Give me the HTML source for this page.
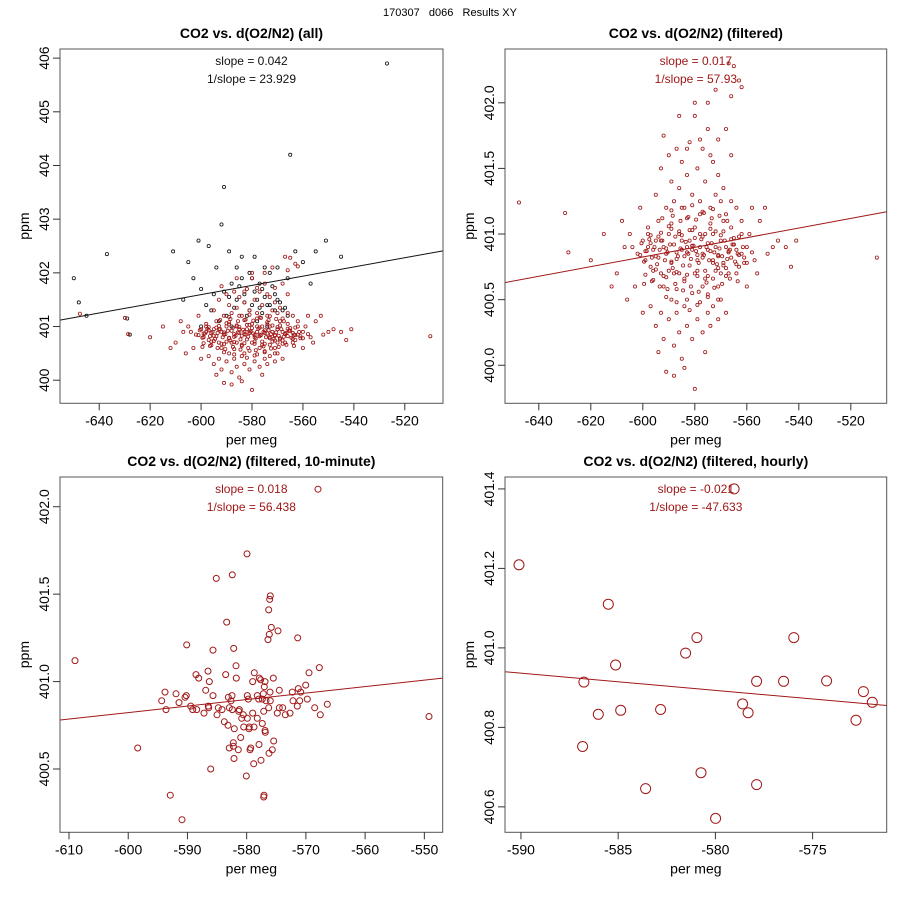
<!DOCTYPE html>
<html><head><meta charset="utf-8"><style>
html,body{margin:0;padding:0;background:#fff;}
svg{display:block;font-family:"Liberation Sans",Arial,sans-serif;}
</style></head><body>
<svg id="chart" width="900" height="900" viewBox="0 0 900 900" xmlns="http://www.w3.org/2000/svg">
<rect width="900" height="900" fill="#fff"/>
<text x="450" y="16" font-size="11" text-anchor="middle" xml:space="preserve">170307   d066   Results XY</text>
</svg>
<script>
// ---------- data ----------
const allOnlyX = [-650,-648,-645,-637,-629,-628,-611,-607,-605,-603,-601,-600,-597,-594,-592,-591,-589,-588,-586,-584,-583,-581,-580,-579,-578,-576,-575,-574,-573,-571,-570,-568,-566,-565,-563,-560,-557,-555,-551,-545,-527,-590,-586,-582,-578,-574,-596,-593,-580,-577,-584,-570,-566,-588,-600,-591,-587,-585,-583,-579,-577,-575,-572,-569,-567,-589,-581,-576,-573,-571,-595,-598];
const allOnlyY = [401.9,401.45,401.2,402.35,401.15,400.85,402.4,401.5,402.2,401.9,402.6,401.7,402.5,402.1,402.9,403.6,402.4,401.8,402.1,402.3,401.6,402.0,401.9,402.3,401.5,401.7,402.1,401.4,402.0,401.6,402.1,401.3,401.9,404.2,402.4,402.2,401.8,402.4,402.6,402.3,405.9,401.2,401.5,401.2,401.1,401.0,401.3,401.1,401.4,401.8,401.9,401.5,401.2,401.0,401.0,401.65,401.35,401.75,401.45,401.65,401.35,401.55,401.75,401.45,401.35,401.55,401.3,401.25,401.4,401.3,401.6,401.4];
const filtX = [-604,-602,-600,-599,-598,-597,-596,-595,-594,-593,-592,-591,-590,-589,-588,-587,-586,-585,-584,-583,-582,-581,-580,-579,-578,-577,-576,-575,-574,-573,-572,-571,-570,-569,-568,-567,-566,-565,-564,-562,-560,-558,
-598,-596,-594,-592,-590,-589,-587,-586,-584,-583,-582,-581,-580,-579,-578,-577,-576,-575,-574,-573,-572,-571,-570,-569,-568,-566,-564,-563,-561,-559,-557,
-595,-593,-592,-591,-590,-589,-588,-587,-586,-585,-584,-583,-582,-581,-580,-579,-578,-577,-576,-575,-574,-573,-572,-571,-570,-569,-568,-566,-564,-580,-578,-575,-574,-571,-586,-583,-568,-566,
-567,-565,-563,-562,-566,-572,
-597,-595,-594,-593,-592,-591,-590,-589,-588,-587,-586,-585,-584,-583,-582,-581,-580,-579,-578,-577,-576,-575,-574,-573,-571,-570,-568,-584,-588,
-610,-608,-607,-606,-605,-603,-601,-600,-562,-560,-558,-556,-555,-553,-552,-550,-548,-545,-543,-541,-510,-647.6,-629.9,-628.6,-620,-615,-612,
-599,-595,-591,-587,-583,-579,-575,-571,-567,-563,-597,-589,-581,-573,-565,-593,-585,-577,-569];
const filtY = [400.9,400.85,400.95,400.8,400.9,400.75,400.88,400.95,400.82,400.7,400.9,400.85,401.0,400.78,400.92,400.86,400.7,400.95,400.83,400.9,400.76,400.88,400.97,400.8,400.9,400.85,400.72,400.93,400.87,400.8,400.9,400.84,400.95,400.78,400.9,400.86,400.82,400.92,400.88,400.85,400.9,400.86,
401.05,400.65,401.1,400.6,400.72,401.08,400.58,401.02,400.64,401.12,400.95,400.55,401.05,400.68,401.15,400.6,401.0,400.52,401.08,400.66,401.02,400.6,400.7,401.1,400.74,401.05,400.7,400.98,400.78,401.0,400.8,
401.3,401.5,401.75,401.2,401.6,401.4,401.25,401.65,401.35,401.55,401.2,401.45,401.7,401.3,401.9,401.5,401.25,401.65,401.4,401.8,401.2,401.55,401.3,401.45,401.25,401.35,401.15,401.25,401.2,402.0,401.72,402.0,401.6,401.72,401.9,401.65,401.8,401.6,
402.3,402.28,402.17,402.12,402.05,402.1,
400.45,400.3,400.1,400.4,400.2,399.95,400.35,400.5,400.15,400.4,400.25,400.05,400.45,400.3,400.42,400.2,399.82,400.35,400.48,400.25,400.1,400.4,400.3,400.45,400.35,400.5,400.4,399.98,399.92,
400.7,401.1,400.9,400.5,401.0,400.6,401.2,400.4,401.1,400.6,401.2,400.7,401.1,401.2,400.85,400.9,400.95,400.9,400.75,400.95,400.82,401.24,401.16,400.86,400.8,401.0,400.6,
400.87,400.83,400.89,400.81,400.86,400.84,400.88,400.83,400.87,400.84,400.93,400.79,400.91,400.78,400.92,400.95,400.88,400.82,400.76];
// dense core of the filtered cloud
const coreX = [-601,-600.5,-599.5,-598.5,-597.5,-596.5,-595.5,-594.5,-593.5,-592.5,-591.5,-590.5,-589.5,-588.5,-587.5,-586.5,-585.5,-584.5,-583.5,-582.5,-581.5,-580.5,-579.5,-578.5,-577.5,-576.5,-575.5,-574.5,-573.5,-572.5,-571.5,-570.5,-569.5,-568.5,-567.5,-566.5,-565.5,-564.5,-563.5,-561.5,
-599,-597,-595,-593,-591,-589,-587,-585,-583,-581,-579,-577,-575,-573,-571,-569,-567,-565,-563,-561,
-598,-596,-594,-592,-590,-588,-586,-584,-582,-580,-578,-576,-574,-572,-570,-568,-566,-564,-562,-560,
-599.5,-596.5,-593.5,-590.5,-587.5,-584.5,-581.5,-578.5,-575.5,-572.5,-569.5,-566.5,-563.5,
-592.5,-588.5,-585.5,-582.5,-579.5,-576.5,-573.5,-570.5,-567.5,
-591,-587,-583,-579,-575,-571,-589,-585,-581,-577,-573];
const coreY = [400.84,400.93,400.79,400.87,400.96,400.82,400.9,400.77,400.88,400.95,400.8,400.86,400.92,400.74,400.98,400.83,400.89,400.76,400.94,400.85,400.81,400.91,400.87,400.78,400.96,400.84,400.9,400.8,400.93,400.86,400.77,400.89,400.83,400.95,400.81,400.88,400.92,400.79,400.85,400.9,
400.69,400.99,400.73,401.01,400.67,401.04,400.71,400.99,400.69,401.03,400.72,400.98,400.68,401.0,400.74,401.02,400.7,400.97,400.75,400.82,
401.0,400.72,400.98,400.68,401.06,400.7,401.0,400.66,401.03,400.7,401.0,400.66,401.04,400.72,400.99,400.68,400.96,400.77,401.0,400.78,
400.62,400.64,400.6,400.58,400.62,400.57,400.6,400.56,400.63,400.59,400.62,400.66,400.64,
401.12,401.14,401.1,401.13,401.11,401.16,401.12,401.14,401.1,
400.52,400.48,400.5,400.46,400.54,400.5,401.18,401.2,401.22,401.17,401.19];
const tenX = [-579.94,-582.42,-585.13,-576.01,-576.11,-576.28,-583.37,-575.84,-574.71,-576.18,-576.4,-571.38,-590.12,-585.68,-582.19,-608.99,-581.8,-567.73,-569.47,-588.55,-586.53,-583.54,-578.71,-575.5,-577.87,-588.1,-581.75,-577.63,-586.31,-578.98,-576.9,-570.03,-577.02,-571.28,-593.79,-586.92,-574.49,-572.29,-570.87,-591.93,-590.19,-585.68,-576.06,-577.19,-582.48,-579.89,-583.1,-578.2,-594.35,-590.41,-582.64,-579.72,-577.97,-577.36,-576.73,-576.01,-572.18,-571.04,-569.76,-591.43,-566.38,-589.45,-586.48,-571.45,-593.62,-589.11,-588.44,-586.41,-584.79,-584.16,-582.93,-582.42,-581.24,-576.28,-574.49,-573.91,-568.51,-587.2,-585.01,-581.34,-580.57,-578.98,-577.12,-574.83,-573.48,-572.68,-567.56,-580.84,-579.89,-578.2,-583.78,-577.36,-583.15,-580.5,-579.55,-578.76,-579.6,-582.09,-576.9,-576.85,-581.01,-575.43,-582.26,-577.92,-582.26,-582.93,-581.41,-579.32,-579.44,-575.67,-576.23,-598.4,-582.14,-577.58,-578.81,-586.07,-580.06,-592.89,-577.07,-577.12,-590.92,-549.21,-567.95];
const tenY = [401.73,401.61,401.59,401.49,401.47,401.41,401.34,401.31,401.29,401.27,401.24,401.25,401.21,401.18,401.19,401.12,401.09,401.08,401.05,401.04,401.06,401.04,401.05,401.02,401.02,401.02,401.02,401.01,401.0,401.0,401.0,400.98,400.97,400.96,400.94,400.95,400.95,400.94,400.94,400.93,400.92,400.92,400.94,400.93,400.92,400.92,400.91,400.92,400.89,400.91,400.89,400.9,400.9,400.9,400.89,400.89,400.89,400.89,400.9,400.88,400.87,400.86,400.86,400.86,400.84,400.84,400.84,400.85,400.85,400.84,400.85,400.84,400.84,400.85,400.85,400.85,400.85,400.82,400.81,400.83,400.81,400.82,400.83,400.82,400.81,400.82,400.81,400.79,400.79,400.79,400.77,400.76,400.75,400.74,400.74,400.74,400.73,400.73,400.72,400.71,400.68,400.66,400.65,400.64,400.63,400.62,400.61,400.62,400.61,400.61,400.59,400.62,400.56,400.55,400.53,400.5,400.46,400.35,400.35,400.34,400.21,400.8,402.1];
const hourX = [-590.10,-585.51,-580.95,-575.97,-581.53,-585.13,-586.76,-577.88,-576.49,-574.28,-572.39,-571.93,-578.60,-578.32,-586.02,-584.87,-582.82,-572.77,-586.83,-580.74,-583.59,-577.88,-579.99,-579.04];
const hourY = [401.209,401.11,401.026,401.026,400.987,400.957,400.914,400.916,400.916,400.917,400.89,400.863,400.859,400.837,400.833,400.843,400.845,400.818,400.752,400.686,400.646,400.656,400.571,401.40];
// fitted lines: [x0, y0, x1, y1]
const fitAll = [-655.4,401.12,-505,402.41];
const fitFilt = [-653,400.63,-506.2,401.17];
const fitTen = [-611.5,400.78,-546.9,401.02];
const fitHour = [-590.82,400.94,-571.19,400.855];
// tick labels
const xTicksTop = [-640,-620,-600,-580,-560,-540,-520];
const yTicksAll = [400,401,402,403,404,405,406];
const yTicksFilt = [400.0,400.5,401.0,401.5,402.0];
const xTicksTen = [-610,-600,-590,-580,-570,-560,-550];
const yTicksTen = [400.5,401.0,401.5,402.0];
const xTicksHour = [-590,-585,-580,-575];
const yTicksHour = [400.6,400.8,401.0,401.2,401.4];

const allFiltX = filtX.concat(coreX);
const allFiltY = filtY.concat(coreY);

const NS = "http://www.w3.org/2000/svg";
const svg = document.getElementById('chart');
const RED = '#a01818';
function mk(tag, attrs, parent){ const e=document.createElementNS(NS,tag); for(const k in attrs) e.setAttribute(k,attrs[k]); (parent||svg).appendChild(e); return e; }

function panel(cfg){
  const g = mk('g',{});
  
  
  const L=cfg.box[0], T=cfg.box[1], R=cfg.box[2], B=cfg.box[3];
  const sx = v => L + (v-cfg.xlim[0])/(cfg.xlim[1]-cfg.xlim[0])*(R-L);
  const sy = v => B - (v-cfg.ylim[0])/(cfg.ylim[1]-cfg.ylim[0])*(B-T);
  const title = mk('text',{x:(L+R)/2,y:T-11,'font-size':14,'font-weight':'bold','text-anchor':'middle'},g);
  title.textContent = cfg.title;
  
  
  cfg.series.forEach(s=>{
    for(let i=0;i<s.x.length;i++){
      const c = mk('circle',{cx:sx(s.x[i]).toFixed(1),cy:sy(s.y[i]).toFixed(1),r:s.r,fill:'none',stroke:s.color,'stroke-width':s.sw},g);
      
      
    }
  });
  const f = cfg.fit;
  const ln = mk('line',{x1:sx(f[0]),y1:sy(f[1]),x2:sx(f[2]),y2:sy(f[3]),stroke:cfg.lineColor,'stroke-width':1},g);
  
  
  const bx = mk('rect',{x:L,y:T,width:R-L,height:B-T,fill:'none',stroke:'#555','stroke-width':1},g);
  
  
  cfg.xticks.forEach(v=>{
    const x=sx(v);
    mk('line',{x1:x,y1:B,x2:x,y2:B+7,stroke:'#333','stroke-width':1},g);
    const t=mk('text',{x:x,y:B+22,'font-size':14,'text-anchor':'middle'},g);
    t.textContent = String(v);
    
    
  });
  cfg.yticks.forEach(v=>{
    const y=sy(v);
    mk('line',{x1:L,y1:y,x2:L-7,y2:y,stroke:'#333','stroke-width':1},g);
    const t=mk('text',{x:0,y:0,'font-size':14,'text-anchor':'middle',transform:`translate(${L-11},${y}) rotate(-90)`},g);
    t.textContent = v.toFixed(cfg.ydec);
    
    
  });
  const xl = mk('text',{x:(L+R)/2,y:B+41,'font-size':14,'text-anchor':'middle'},g);
  xl.textContent = 'per meg';
  
  
  const yl = mk('text',{x:0,y:0,'font-size':14,'text-anchor':'middle',transform:`translate(${L-31},${(T+B)/2}) rotate(-90)`},g);
  yl.textContent = 'ppm';
  
  
  const a1 = mk('text',{x:(L+R)/2,y:T+16,'font-size':12,'text-anchor':'middle',fill:cfg.textColor},g);
  a1.textContent = cfg.notes[0];
  
  
  const a2 = mk('text',{x:(L+R)/2,y:T+34,'font-size':12,'text-anchor':'middle',fill:cfg.textColor},g);
  a2.textContent = cfg.notes[1];
  
  
}

panel({name:'panel-all',title:'CO2 vs. d(O2/N2) (all)',box:[60,49,443,403.3],xlim:[-655.4,-505],ylim:[399.57,406.17],
  series:[{x:allOnlyX,y:allOnlyY,color:'#111',r:1.6,sw:0.8},{x:allFiltX,y:allFiltY,color:RED,r:1.6,sw:0.8}],
  fit:fitAll,lineColor:'#111',xticks:xTicksTop,yticks:yTicksAll,ydec:0,textColor:'#111',notes:['slope = 0.042','1/slope = 23.929']});
panel({name:'panel-filtered',title:'CO2 vs. d(O2/N2) (filtered)',box:[505,49,886.7,403.3],xlim:[-653,-506.2],ylim:[399.71,402.41],
  series:[{x:allFiltX,y:allFiltY,color:RED,r:1.6,sw:0.8}],
  fit:fitFilt,lineColor:RED,xticks:xTicksTop,yticks:yTicksFilt,ydec:1,textColor:RED,notes:['slope = 0.017','1/slope = 57.93']});
panel({name:'panel-10-minute',title:'CO2 vs. d(O2/N2) (filtered, 10-minute)',box:[60,477,442.7,832.3],xlim:[-611.52,-546.9],ylim:[400.138,402.17],
  series:[{x:tenX,y:tenY,color:RED,r:3,sw:1}],
  fit:fitTen,lineColor:RED,xticks:xTicksTen,yticks:yTicksTen,ydec:1,textColor:RED,notes:['slope = 0.018','1/slope = 56.438']});
panel({name:'panel-hourly',title:'CO2 vs. d(O2/N2) (filtered, hourly)',box:[505,477,886.7,832.3],xlim:[-590.82,-571.19],ylim:[400.536,401.43],
  series:[{x:hourX,y:hourY,color:RED,r:5,sw:1}],
  fit:fitHour,lineColor:RED,xticks:xTicksHour,yticks:yTicksHour,ydec:1,textColor:RED,notes:['slope = -0.021','1/slope = -47.633']});
</script>
</body></html>
